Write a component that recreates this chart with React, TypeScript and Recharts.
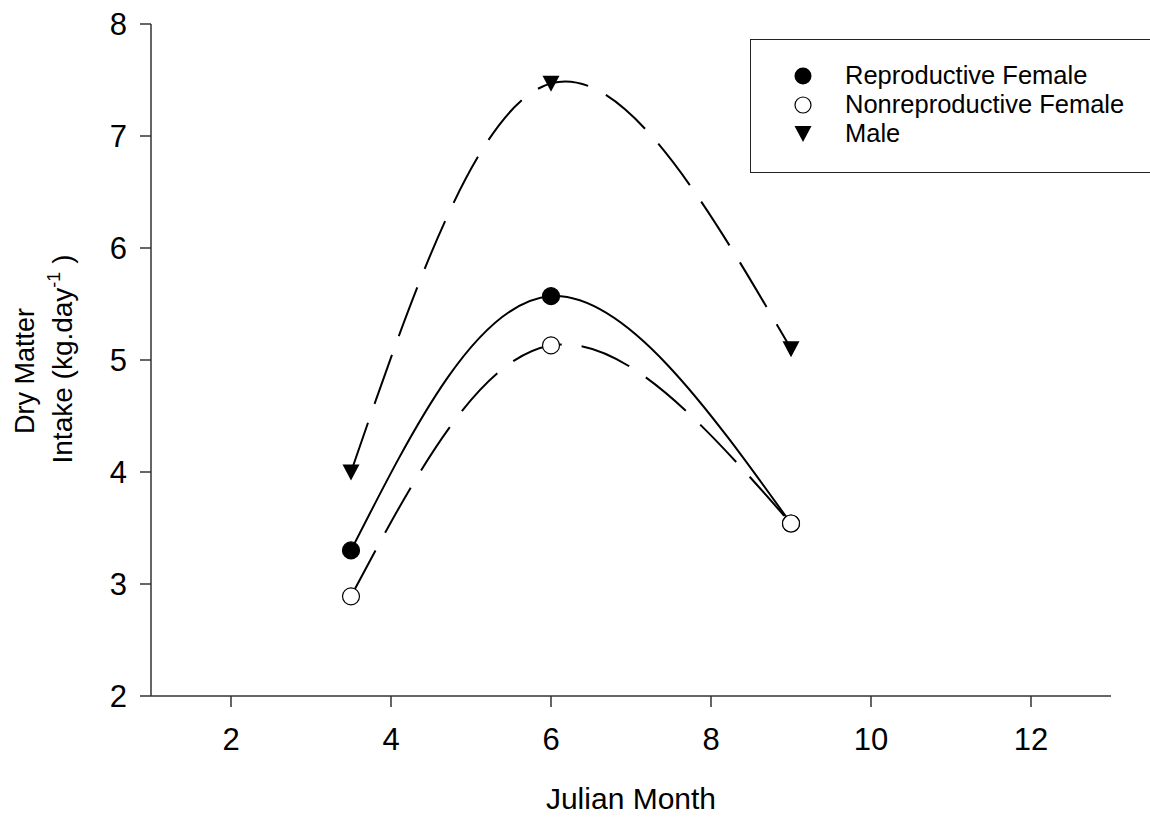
import { LineChart, Line, XAxis, YAxis, Label } from "recharts";

// Julian month of each sampling period
const months = [3.5, 6, 9];

// Dry matter intake, kg/day
const reproductiveFemale = [3.3, 5.57, 3.54];
const nonreproductiveFemale = [2.89, 5.13, 3.54];
const male = [4.0, 7.47, 5.1];

const xTicks = [2, 4, 6, 8, 10, 12];
const yTicks = [2, 3, 4, 5, 6, 7, 8];

const data = months.map((m, i) => ({
  month: m,
  repro: reproductiveFemale[i],
  nonrepro: nonreproductiveFemale[i],
  male: male[i],
}));

const FONT = "'Liberation Sans', Arial, sans-serif";
const TICK_FONT = 31;

const FilledCircle = (props: any) => (
  <circle key={props.key} cx={props.cx} cy={props.cy} r={8.5} fill="#000" stroke="#000" strokeWidth={1.2} />
);

const OpenCircle = (props: any) => (
  <circle key={props.key} cx={props.cx} cy={props.cy} r={8.5} fill="#fff" stroke="#000" strokeWidth={1.2} />
);

const Triangle = (props: any) => {
  const { cx, cy } = props;
  return (
    <polygon
      key={props.key}
      points={`${cx - 8.5},${cy - 7.5} ${cx + 8.5},${cy - 7.5} ${cx},${cy + 8.5}`}
      fill="#000"
    />
  );
};

// x tick: label centred under the tick, baseline ~43px below tick end
const XTick = (props: any) => (
  <text
    x={props.x}
    y={props.y}
    dy={43}
    textAnchor="middle"
    fill="#000"
    fontFamily={FONT}
    style={{ fontSize: TICK_FONT }}
  >
    {props.payload.value}
  </text>
);

const YTick = (props: any) => (
  <text
    x={props.x}
    y={props.y}
    dx={-13}
    dy={11}
    textAnchor="end"
    fill="#000"
    fontFamily={FONT}
    style={{ fontSize: TICK_FONT }}
  >
    {props.payload.value}
  </text>
);

const legendItems = [
  { name: "Reproductive Female", marker: "filled" },
  { name: "Nonreproductive Female", marker: "open" },
  { name: "Male", marker: "tri" },
];

const LegendBox = () => (
  <div
    style={{
      position: "absolute",
      left: 750,
      top: 39,
      width: 400,
      height: 134,
      boxSizing: "border-box",
      border: "1.5px solid #222",
      borderRight: "none",
      background: "#fff",
      fontFamily: FONT,
      fontSize: 25.5,
      paddingTop: 21,
    }}
  >
    {legendItems.map((it) => (
      <div key={it.name} style={{ display: "flex", alignItems: "center", height: 29 }}>
        <svg width={94} height={29} style={{ flex: "none" }}>
          {it.marker === "filled" && <circle cx={52} cy={15} r={8.5} fill="#000" />}
          {it.marker === "open" && <circle cx={52} cy={15} r={8} fill="#fff" stroke="#000" strokeWidth={1.2} />}
          {it.marker === "tri" && <polygon points="43.5,7 60.5,7 52,23" fill="#000" />}
        </svg>
        <span style={{ color: "#000", whiteSpace: "nowrap" }}>{it.name}</span>
      </div>
    ))}
  </div>
);

const XTitle = (props: any) => {
  const vb = props.viewBox || { x: 151, width: 960, y: 696 };
  return (
    <text
      x={vb.x + vb.width / 2}
      y={809}
      textAnchor="middle"
      fill="#000"
      fontFamily={FONT}
      style={{ fontSize: 30 }}
    >
      Julian Month
    </text>
  );
};

const YTitle = () => (
  <g fill="#000" fontFamily={FONT}>
    <text transform="translate(34, 371) rotate(-90)" textAnchor="middle" style={{ fontSize: 27 }}>
      Dry Matter
    </text>
    <text transform="translate(72, 359) rotate(-90)" textAnchor="middle" style={{ fontSize: 28 }}>
      Intake (kg.day
      <tspan dy={-12} style={{ fontSize: 18 }}>-1</tspan>
      <tspan dy={12} style={{ fontSize: 28 }}> )</tspan>
    </text>
  </g>
);

export default function App() {
  return (
    <div style={{ position: "absolute", left: 0, top: 0, width: 1150, height: 817, background: "#fff" }}>
      <LineChart
        width={1150}
        height={817}
        data={data}
        margin={{ top: 24, right: 39, bottom: 61, left: 91 }}
      >
        <XAxis
          dataKey="month"
          type="number"
          domain={[1, 13]}
          ticks={xTicks}
          height={60}
          stroke="#333"
          strokeWidth={1.5}
          tickSize={11}
          tickMargin={0}
          tick={<XTick />}
        >
          <Label content={<XTitle />} />
        </XAxis>
        <YAxis
          type="number"
          domain={[2, 8]}
          ticks={yTicks}
          width={60}
          stroke="#333"
          strokeWidth={1.5}
          tickSize={11}
          tickMargin={0}
          tick={<YTick />}
        >
          <Label content={<YTitle />} />
        </YAxis>
        <Line
          type="natural"
          dataKey="repro"
          stroke="#000"
          strokeWidth={2}
          dot={FilledCircle}
          isAnimationActive={false}
        />
        <Line
          type="natural"
          dataKey="nonrepro"
          stroke="#000"
          strokeWidth={2}
          strokeDasharray="52 20"
          dot={OpenCircle}
          isAnimationActive={false}
        />
        <Line
          type="natural"
          dataKey="male"
          stroke="#000"
          strokeWidth={2}
          strokeDasharray="52 20"
          dot={Triangle}
          isAnimationActive={false}
        />
      </LineChart>
      <LegendBox />
    </div>
  );
}
